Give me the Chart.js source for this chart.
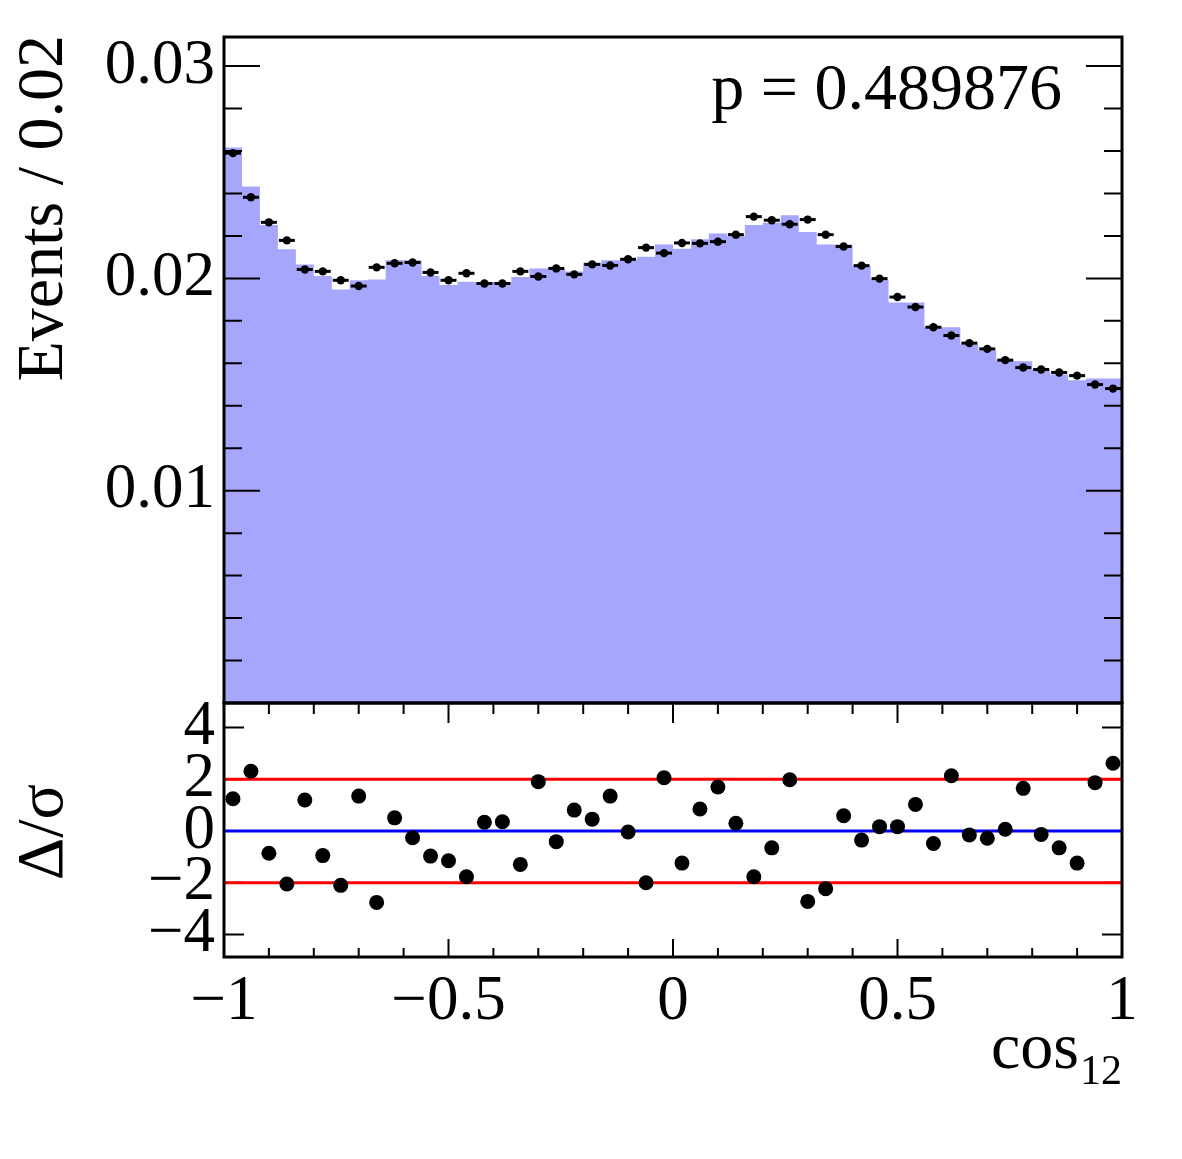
<!DOCTYPE html>
<html><head><meta charset="utf-8">
<script src="https://cdn.jsdelivr.net/npm/chart.js@4/dist/chart.umd.min.js"></script>
<style>
html,body{margin:0;padding:0;background:#fff;}
#wrap{position:relative;width:1182px;height:1159px;background:#fff;}
canvas{position:absolute;left:0;}
#topc{top:0;width:1182px;height:720px;}
#botc{top:690px;width:1182px;height:469px;}
</style></head><body>
<div id="wrap">
<canvas id="topc" width="1182" height="720"></canvas>
<canvas id="botc" width="1182" height="469"></canvas>
</div>
<script>
// ---------- data ----------
const binCenters = [-0.98,-0.94,-0.90,-0.86,-0.82,-0.78,-0.74,-0.70,-0.66,-0.62,
  -0.58,-0.54,-0.50,-0.46,-0.42,-0.38,-0.34,-0.30,-0.26,-0.22,
  -0.18,-0.14,-0.10,-0.06,-0.02,0.02,0.06,0.10,0.14,0.18,
  0.22,0.26,0.30,0.34,0.38,0.42,0.46,0.50,0.54,0.58,
  0.62,0.66,0.70,0.74,0.78,0.82,0.86,0.90,0.94,0.98];
const binHalfWidth = 0.02;
const dataValues = [0.02590,0.02382,0.02264,0.02179,0.02042,0.02033,0.01991,0.01964,0.02052,0.02071,
  0.02075,0.02028,0.01991,0.02024,0.01976,0.01976,0.02033,0.02009,0.02047,0.02019,
  0.02066,0.02061,0.02090,0.02145,0.02119,0.02167,0.02165,0.02173,0.02206,0.02291,
  0.02274,0.02255,0.02277,0.02206,0.02150,0.02060,0.01999,0.01912,0.01865,0.01770,
  0.01731,0.01695,0.01668,0.01615,0.01580,0.01571,0.01557,0.01542,0.01500,0.01481];
const fitValues = [0.02617,0.02433,0.02251,0.02137,0.02066,0.02011,0.01948,0.01991,0.01995,0.02085,
  0.02085,0.02011,0.01969,0.01984,0.01983,0.01983,0.02006,0.02047,0.02047,0.02033,
  0.02074,0.02086,0.02086,0.02102,0.02160,0.02140,0.02184,0.02211,0.02198,0.02251,
  0.02262,0.02297,0.02218,0.02160,0.02160,0.02057,0.01995,0.01887,0.01887,0.01770,
  0.01770,0.01689,0.01662,0.01613,0.01610,0.01571,0.01547,0.01520,0.01528,0.01528];
const pullValues = [1.25,2.31,-0.86,-2.05,1.20,-0.95,-2.10,1.35,-2.76,0.51,
  -0.26,-0.97,-1.15,-1.77,0.34,0.36,-1.29,1.91,-0.41,0.81,
  0.46,1.35,-0.04,-2.00,2.06,-1.24,0.85,1.70,0.30,-1.77,
  -0.65,1.98,-2.72,-2.23,0.59,-0.35,0.17,0.17,1.03,-0.48,
  2.14,-0.15,-0.28,0.07,1.65,-0.13,-0.65,-1.24,1.87,2.62];
const refLevels = [2, 0, -2];
const refColors = ['#ff0000', '#0000ff', '#ff0000'];

const topYTicks = [0.01, 0.02, 0.03];
const topYTickLabels = ['0.01', '0.02', '0.03'];
const topYMinor = [0.002,0.004,0.006,0.008,0.012,0.014,0.016,0.018,0.022,0.024,0.026,0.028];
const botYTicks = [4, 2, 0, -2, -4];
const botYTickLabels = ['4', '2', '0', '\u22122', '\u22124'];
const xTicks = [-1, -0.5, 0, 0.5, 1];
const xTickLabels = ['\u22121', '\u22120.5', '0', '0.5', '1'];
const xMajorInner = [-0.5, 0, 0.5];
const xMinor = [-0.9,-0.8,-0.7,-0.6,-0.4,-0.3,-0.2,-0.1,0.1,0.2,0.3,0.4,0.6,0.7,0.8,0.9];

const yTitle = 'Events / 0.02';
const pullTitle = '\u0394/\u03c3';
const xTitleMain = 'cos';
const xTitleSub = '12';
const pText = 'p = 0.489876';

// ---------- style ----------
const FONT = '"Liberation Serif", "Times New Roman", serif';
const FILL = '#a6a6fc';

// ---------- derived tables ----------
const histPts = binCenters.map((c, i) => ({x: c - binHalfWidth, y: fitValues[i]}));
histPts.push({x: binCenters[binCenters.length-1] + binHalfWidth, y: fitValues[fitValues.length-1]});
const dataPts = binCenters.map((c, i) => ({x: c, y: dataValues[i]}));
const pullPts = binCenters.map((c, i) => ({x: c, y: pullValues[i]}));

function noPad(s) { s.paddingTop = 0; s.paddingBottom = 0; s.paddingLeft = 0; s.paddingRight = 0; }

// ---------- plugins ----------
const topDeco = {
  id: 'topDeco',
  afterDatasetsDraw(chart) {
    const ctx = chart.ctx, xs = chart.scales.x, ys = chart.scales.y, a = chart.chartArea;
    ctx.save();
    ctx.strokeStyle = '#000'; ctx.lineWidth = 3;
    dataPts.forEach(p => {
      const y = ys.getPixelForValue(p.y);
      ctx.beginPath();
      ctx.moveTo(xs.getPixelForValue(p.x - binHalfWidth) + 1, y);
      ctx.lineTo(xs.getPixelForValue(p.x + binHalfWidth) - 1, y);
      ctx.stroke();
    });
    ctx.lineWidth = 2;
    const tick = (v, len) => {
      const y = ys.getPixelForValue(v);
      ctx.beginPath();
      ctx.moveTo(a.left, y); ctx.lineTo(a.left + len, y);
      ctx.moveTo(a.right, y); ctx.lineTo(a.right - len, y);
      ctx.stroke();
    };
    topYTicks.forEach(v => tick(v, 36));
    topYMinor.forEach(v => tick(v, 18));
    ctx.restore();
  },
  afterDraw(chart) {
    const ctx = chart.ctx, a = chart.chartArea;
    ctx.save();
    ctx.strokeStyle = '#000';
    ctx.lineWidth = 3;
    ctx.strokeRect(a.left, a.top, a.right - a.left, a.bottom - a.top);
    ctx.fillStyle = '#000';
    ctx.font = '66px ' + FONT;
    ctx.textAlign = 'right'; ctx.textBaseline = 'alphabetic';
    ctx.fillText(pText, 1062, 109);
    ctx.translate(62, 35);
    ctx.rotate(-Math.PI / 2);
    ctx.textAlign = 'right';
    ctx.fillText(yTitle, 0, 0);
    ctx.restore();
  }
};

const botDeco = {
  id: 'botDeco',
  beforeDatasetsDraw(chart) {
    const ctx = chart.ctx, a = chart.chartArea, xs = chart.scales.x, ys = chart.scales.y;
    ctx.save();
    ctx.strokeStyle = '#000'; ctx.lineWidth = 2;
    const xt = (v, lenTop, lenBot) => {
      const x = xs.getPixelForValue(v);
      ctx.beginPath();
      ctx.moveTo(x, a.top); ctx.lineTo(x, a.top + lenTop);
      ctx.moveTo(x, a.bottom); ctx.lineTo(x, a.bottom - lenBot);
      ctx.stroke();
    };
    xMajorInner.forEach(v => xt(v, 20, 18));
    xMinor.forEach(v => xt(v, 11, 9));
    botYTicks.forEach(v => {
      const y = ys.getPixelForValue(v);
      ctx.beginPath();
      ctx.moveTo(a.left, y); ctx.lineTo(a.left + 20, y);
      ctx.moveTo(a.right, y); ctx.lineTo(a.right - 20, y);
      ctx.stroke();
    });
    ctx.restore();
  },
  afterDraw(chart) {
    const ctx = chart.ctx, a = chart.chartArea;
    ctx.save();
    ctx.strokeStyle = '#000';
    ctx.lineWidth = 3;
    ctx.strokeRect(a.left, a.top, a.right - a.left, a.bottom - a.top);
    ctx.fillStyle = '#000';
    ctx.textBaseline = 'alphabetic';
    ctx.font = '66px ' + FONT;
    ctx.textAlign = 'left';
    ctx.fillText(xTitleMain, 991, 378);
    const w = ctx.measureText(xTitleMain).width;
    ctx.font = '42px ' + FONT;
    ctx.fillText(xTitleSub, 991 + w + 1, 394);
    ctx.font = '66px ' + FONT;
    ctx.translate(62, 142);
    ctx.rotate(-Math.PI / 2);
    ctx.textAlign = 'center';
    ctx.fillText(pullTitle, 0, 0);
    ctx.restore();
  }
};

// ---------- top chart ----------
new Chart(document.getElementById('topc'), {
  data: {
    datasets: [
      {type: 'line', data: histPts, stepped: 'before', fill: 'origin', backgroundColor: FILL,
       borderColor: 'rgba(0,0,0,0)', borderWidth: 0, pointRadius: 0, order: 2},
      {type: 'scatter', data: dataPts, pointRadius: 4.2, pointBackgroundColor: '#000',
       pointBorderWidth: 0, order: 1}
    ]
  },
  options: {
    responsive: false, animation: false, devicePixelRatio: 1,
    layout: {padding: {top: 37, right: 60, bottom: 17, left: 0}},
    plugins: {legend: {display: false}, tooltip: {enabled: false}},
    scales: {
      x: {type: 'linear', min: -1, max: 1, display: false},
      y: {type: 'linear', min: 0, max: 0.03137,
          afterFit(s) { s.width = 224; noPad(s); },
          afterBuildTicks(s) { s.ticks = topYTicks.map(v => ({value: v})); },
          grid: {display: false, drawTicks: false}, border: {display: false},
          ticks: {color: '#000', padding: 9, autoSkip: false, font: {family: FONT, size: 63},
                  callback: (v) => topYTickLabels[topYTicks.indexOf(v)]}}
    }
  },
  plugins: [topDeco]
});

// ---------- bottom chart ----------
const refSets = refLevels.map((lv, i) => ({
  type: 'line', data: [{x: -1, y: lv}, {x: 1, y: lv}], borderColor: refColors[i],
  borderWidth: 3, pointRadius: 0, fill: false, order: 2
}));
new Chart(document.getElementById('botc'), {
  data: {
    datasets: refSets.concat([
      {type: 'scatter', data: pullPts, pointRadius: 7.5, pointBackgroundColor: '#000',
       pointBorderWidth: 0, order: 1}
    ])
  },
  options: {
    responsive: false, animation: false, devicePixelRatio: 1,
    layout: {padding: {top: 13, right: 60, bottom: 0, left: 0}},
    plugins: {legend: {display: false}, tooltip: {enabled: false}},
    scales: {
      x: {type: 'linear', min: -1, max: 1,
          afterFit(s) { s.height = 202; noPad(s); },
          afterBuildTicks(s) { s.ticks = xTicks.map(v => ({value: v})); },
          grid: {display: false, drawTicks: false}, border: {display: false},
          ticks: {color: '#000', padding: 8, maxRotation: 0, autoSkip: false,
                  font: {family: FONT, size: 63},
                  callback: (v) => xTickLabels[xTicks.indexOf(v)]}},
      y: {type: 'linear', min: -4.87, max: 4.95,
          afterFit(s) { s.width = 224; noPad(s); },
          afterBuildTicks(s) { s.ticks = botYTicks.map(v => ({value: v})); },
          grid: {display: false, drawTicks: false}, border: {display: false},
          ticks: {color: '#000', padding: 9, autoSkip: false, font: {family: FONT, size: 63},
                  callback: (v) => botYTickLabels[botYTicks.indexOf(v)]}}
    }
  },
  plugins: [botDeco]
});
</script>
</body></html>
